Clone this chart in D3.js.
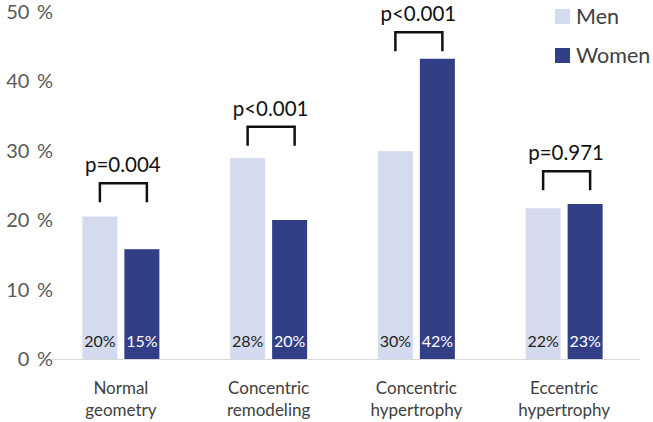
<!DOCTYPE html>
<html>
<head>
<meta charset="utf-8">
<script src="https://cdn.jsdelivr.net/npm/d3@7"></script>
<style>
  html, body { margin: 0; padding: 0; background: #fff; }
  svg { display: block; font-family: Lato, "Liberation Sans", Arial, sans-serif; }
</style>
</head>
<body>
<svg id="chart" width="653" height="422"></svg>
<script>
// ---- data ----
const categories = ["Normal geometry", "Concentric remodeling", "Concentric hypertrophy", "Eccentric hypertrophy"];
const categoryLines = [["Normal", "geometry"], ["Concentric", "remodeling"], ["Concentric", "hypertrophy"], ["Eccentric", "hypertrophy"]];
const seriesNames = ["Men", "Women"];
const menValues = [20.5, 28.9, 29.9, 21.7];
const womenValues = [15.8, 20.0, 43.2, 22.3];
const menLabels = ["20%", "28%", "30%", "22%"];
const womenLabels = ["15%", "20%", "42%", "23%"];
const pValues = ["p=0.004", "p<0.001", "p<0.001", "p=0.971"];
const bracketLevels = [25.3, 33.4, 47.0, 27.0];
const yTicks = [0, 10, 20, 30, 40, 50];

// ---- layout ----
const colors = { Men: "#D5DBEE", Women: "#323F87" };
const svg = d3.select("#chart");
const y = d3.scaleLinear().domain([0, 50]).range([359, 11.5]);
const x = d3.scaleBand().domain(categories).range([47, 638]).padding(0);
const barW = 35, gap = 7;

// y tick labels
svg.append("g").selectAll("text").data(yTicks).join("text")
  .attr("x", 53).attr("y", d => y(d)).attr("dy", "0.35em")
  .attr("text-anchor", "end")
  .attr("font-size", 20).attr("fill", "#595959")
  .style("white-space", "pre")
  .text(d => d + "\u2009 %");

// baseline
svg.append("line").attr("x1", 52).attr("x2", 640)
  .attr("y1", y(0) + 0.5).attr("y2", y(0) + 0.5)
  .attr("stroke", "#D9D9D9").attr("stroke-width", 1);

const groups = categories.map((c, i) => ({
  c, i, cx: x(c) + x.bandwidth() / 2,
  men: menValues[i], women: womenValues[i]
}));

// bars
const g = svg.append("g");
g.selectAll("rect.men").data(groups).join("rect").attr("class", "men")
  .attr("x", d => d.cx - gap / 2 - barW).attr("width", barW)
  .attr("y", d => y(d.men)).attr("height", d => y(0) - y(d.men))
  .attr("fill", colors.Men);
g.selectAll("rect.women").data(groups).join("rect").attr("class", "women")
  .attr("x", d => d.cx + gap / 2).attr("width", barW)
  .attr("y", d => y(d.women)).attr("height", d => y(0) - y(d.women))
  .attr("fill", colors.Women);

// bar labels
g.selectAll("text.ml").data(groups).join("text").attr("class", "ml")
  .attr("x", d => d.cx - gap / 2 - barW / 2).attr("y", y(0) - 12)
  .attr("text-anchor", "middle").attr("font-size", 16).attr("fill", "#222")
  .text(d => menLabels[d.i]);
g.selectAll("text.wl").data(groups).join("text").attr("class", "wl")
  .attr("x", d => d.cx + gap / 2 + barW / 2).attr("y", y(0) - 12)
  .attr("text-anchor", "middle").attr("font-size", 16).attr("fill", "#fff")
  .text(d => womenLabels[d.i]);

// brackets
const bh = 19;
g.selectAll("path.br").data(groups).join("path").attr("class", "br")
  .attr("d", d => {
    const x1 = d.cx - gap / 2 - barW / 2, x2 = d.cx + gap / 2 + barW / 2 + 5;
    const yt = y(bracketLevels[d.i]);
    return `M${x1},${yt + bh}V${yt}H${x2}V${yt + bh}`;
  })
  .attr("fill", "none").attr("stroke", "#111").attr("stroke-width", 2.5);
g.selectAll("text.p").data(groups).join("text").attr("class", "p")
  .attr("x", d => d.cx + 2).attr("y", d => y(bracketLevels[d.i]) - 11)
  .attr("text-anchor", "middle").attr("font-size", 20.5).attr("fill", "#111")
  .text(d => pValues[d.i]);

// category labels
const cl = svg.append("g").selectAll("text").data(groups).join("text")
  .attr("x", d => d.cx).attr("text-anchor", "middle")
  .attr("font-size", 17).attr("fill", "#404040");
cl.each(function(d) {
  const t = d3.select(this);
  categoryLines[d.i].forEach((ln, k) => {
    t.append("tspan").attr("x", d.cx).attr("y", 394 + k * 22).text(ln);
  });
});

// legend
const lg = svg.append("g").selectAll("g").data(seriesNames).join("g")
  .attr("transform", (d, i) => `translate(555, ${9 + i * 39})`);
lg.append("rect").attr("width", 15).attr("height", 15).attr("fill", d => colors[d]);
lg.append("text").attr("x", 21).attr("y", 7.5).attr("dy", "0.35em")
  .attr("font-size", 21.5).attr("fill", "#404040").text(d => d);
</script>
</body>
</html>
